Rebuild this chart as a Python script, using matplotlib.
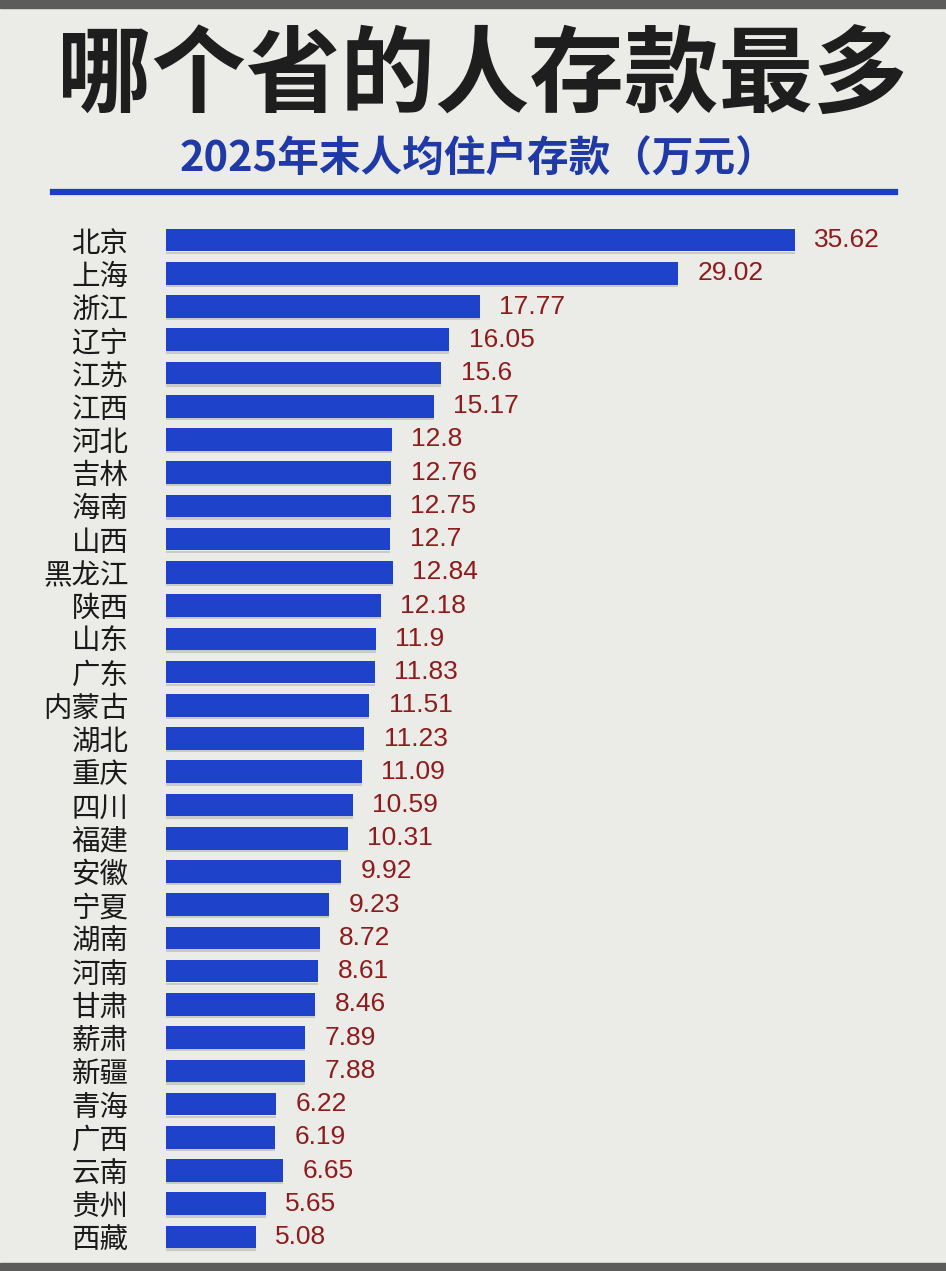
import matplotlib
matplotlib.use("Agg")
import matplotlib.pyplot as plt

plt.rcParams['font.family'] = ['Noto Sans CJK SC', 'DejaVu Sans']

provinces = ["北京", "上海", "浙江", "辽宁", "江苏", "江西", "河北", "吉林", "海南", "山西",
             "黑龙江", "陕西", "山东", "广东", "内蒙古", "湖北", "重庆", "四川", "福建", "安徽",
             "宁夏", "湖南", "河南", "甘肃", "薪肃", "新疆", "青海", "广西", "云南", "贵州", "西藏"]
deposits = [35.62, 29.02, 17.77, 16.05, 15.6, 15.17, 12.8, 12.76, 12.75, 12.7,
            12.84, 12.18, 11.9, 11.83, 11.51, 11.23, 11.09, 10.59, 10.31, 9.92,
            9.23, 8.72, 8.61, 8.46, 7.89, 7.88, 6.22, 6.19, 6.65, 5.65, 5.08]

title = "哪个省的人存款最多"
subtitle = "2025年末人均住户存款（万元）"

bg = "#ebebe8"
bar_color = "#1e42ca"
value_color = "#8e1c1c"

fig = plt.figure(figsize=(9.46, 12.71), dpi=100, facecolor=bg)

# photo border strips
fig.patches.append(plt.Rectangle((0, 1 - 8 / 1271), 1, 8 / 1271, transform=fig.transFigure,
                                 color="#5c5c5a", zorder=0))
fig.patches.append(plt.Rectangle((0, 0), 1, 8 / 1271, transform=fig.transFigure,
                                 color="#5c5c5a", zorder=0))

fig.text(0.51, 1 - 78 / 1271, title, ha="center", va="center", fontsize=68,
         fontweight="black", color="#1e1e1e")
fig.text(0.506, 1 - 160 / 1271, subtitle, ha="center", va="center", fontsize=30,
         fontweight="bold", color="#1f3aa6")
fig.add_artist(plt.Line2D([53 / 946, 895 / 946], [1 - 192 / 1271] * 2,
                          transform=fig.transFigure, color="#1a3fc4", linewidth=4.5))

ax = fig.add_axes([166 / 946, 0.0137, (895 - 166) / 946, 0.8105])
ax.set_facecolor(bg)
y = list(range(len(provinces)))

# faint shadow under each bar
ax.barh([i + 0.38 for i in y], deposits, height=0.07, color="#c9c9c6", zorder=1)
bars = ax.barh(y, deposits, height=0.68, color=bar_color, zorder=2)

for b, v in zip(bars, deposits):
    ax.annotate(str(v), (b.get_width(), b.get_y() + b.get_height() / 2),
                xytext=(14, 0), textcoords="offset points", ha="left", va="center",
                fontsize=19, color=value_color, family=["Liberation Sans", "DejaVu Sans"])

ax.set_xlim(0, 41.3)
ax.set_ylim(len(provinces) - 0.5, -0.5)
ax.set_yticks(y)
ax.set_yticklabels(provinces, fontsize=20.5, color="#1a1a1a")
ax.tick_params(axis="y", length=0, pad=27)
ax.set_xticks([])
for s in ax.spines.values():
    s.set_visible(False)

fig.savefig("out.png", dpi=100, facecolor=bg)
